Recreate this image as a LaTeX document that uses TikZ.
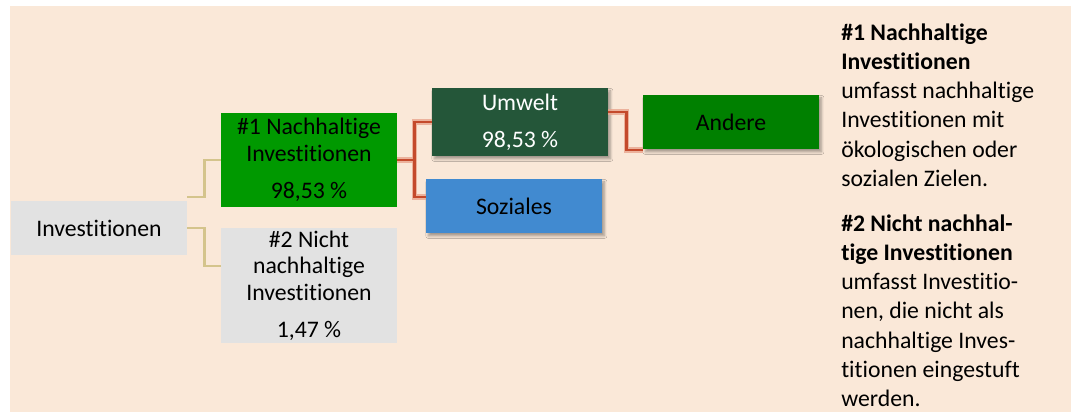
\documentclass[tikz,border=0pt]{standalone}
\usepackage{fontspec}
\setmainfont{Carlito}[Ligatures={NoCommon,NoContextual},RawFeature={-liga;-clig;-dlig}]
\usetikzlibrary{calc,shadows.blur}
\definecolor{peach}{HTML}{FAE8D8}
\definecolor{boxgrey}{HTML}{E2E2E2}
\definecolor{brightgreen}{HTML}{009900}
\definecolor{darkgreen}{HTML}{245639}
\definecolor{skyblue}{HTML}{418AD0}
\definecolor{midgreen}{HTML}{008000}
\definecolor{redline}{HTML}{C44A2C}
\definecolor{redhalo}{HTML}{E9A58E}
\definecolor{tanline}{HTML}{D4C48C}
\tikzset{
  boxnode/.style={minimum width=132pt, inner sep=0pt, align=center,
    font=\fontsize{17.8}{19.9}\selectfont},
  shadowed/.style={blur shadow={shadow xshift=1.8pt, shadow yshift=-2.2pt, shadow blur steps=6, shadow blur extra rounding=0pt, shadow opacity=35}},
  tanconn/.style={draw=tanline, line width=1.9pt},
  redhaloconn/.style={draw=redhalo, line width=4pt, opacity=0.8},
  redconn/.style={draw=redline, line width=2pt},
  rline/.style={anchor=base west, inner sep=0pt, font=\fontsize{17.8}{22}\selectfont}
}
\begin{document}
\begin{tikzpicture}[x=0.75pt,y=-0.75pt]
\useasboundingbox (0,0) rectangle (1071,412);
\fill[white] (0,0) rectangle (1071,412);
\fill[peach] (10,6) rectangle (1071,412);

% boxes
\node[boxnode, fill=boxgrey, minimum height=40.5pt] (inv) at (99,228) {Investitionen};
\node[boxnode, fill=brightgreen, minimum height=70.5pt] (n1) at (309,160) {\#1 Nachhaltige\\Investitionen\\[7.9pt]98,53 \%};
\node[boxnode, fill=boxgrey, minimum height=86.25pt] (n2) at (309,285.5) {\#2 Nicht\\nachhaltige\\Investitionen\\[7.9pt]1,47 \%};
\node[boxnode, shadowed, fill=darkgreen, text=white, minimum height=51pt] (umw) at (520,122) {Umwelt\\[7.9pt]98,53 \%};
\node[boxnode, shadowed, fill=skyblue, minimum height=40.5pt] (soz) at (514,206) {Soziales};
\node[boxnode, shadowed, fill=midgreen, minimum height=40.5pt] (and) at (731,122) {Andere};

% connectors
\draw[tanconn] ($(inv.east)+(0,-31)$) -- ++(17,0) |- (n1.west);
\draw[tanconn] (inv.east) -- ++(17,0) |- ($(n2.west)+(0,-19.5)$);

\coordinate (j1) at ($(n1.east)+(17,0)$);
\coordinate (j2) at ($(umw.east)+(18,-10)$);
\foreach \s in {redhaloconn,redconn}{
  \draw[\s] (n1.east) -- (j1);
  \draw[\s] (j1) |- (umw.west);
  \draw[\s] (j1) |- ($(soz.west)+(0,-9)$);
  \draw[\s] ($(umw.east)+(0,-10)$) -- (j2) |- ($(and.west)+(0,28)$);
}

% right text
\node[rline] (r1) at (841,40) {\bfseries\#1 Nachhaltige};
\node[rline] (r2) at (841,69.3) {\bfseries Investitionen};
\node[rline] (r3) at (841,98.6) {umfasst nachhaltige};
\node[rline] (r4) at (841,127.9) {Investitionen mit};
\node[rline] (r5) at (841,157.2) {ökologischen oder};
\node[rline] (r6) at (841,186.5) {sozialen Zielen.};
\node[rline] (r7) at (841,231) {\bfseries\#2 Nicht nachhal-};
\node[rline] (r8) at (841,260.3) {\bfseries tige Investitionen};
\node[rline] (r9) at (841,289.6) {umfasst Investitio-};
\node[rline] (r10) at (841,318.9) {nen, die nicht als};
\node[rline] (r11) at (841,348.2) {nachhaltige Inves-};
\node[rline] (r12) at (841,377.5) {titionen eingestuft};
\node[rline] (r13) at (841,406.8) {werden.};
\end{tikzpicture}
\end{document}
